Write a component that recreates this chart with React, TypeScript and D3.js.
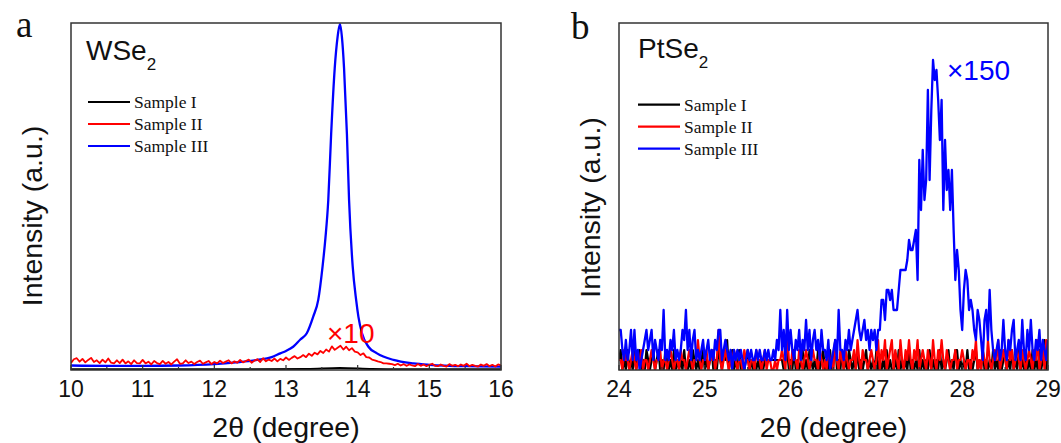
import React from 'react';
import * as d3 from 'd3';

// ---------- Panel a: WSe2 ----------
const wse2Ticks = [10, 11, 12, 13, 14, 15, 16];
const wse2MinorTicks = [10.5, 11.5, 12.5, 13.5, 14.5, 15.5];
const wse2BlueX = [10.0, 10.5, 11.0, 11.5, 12.0, 12.3, 12.6, 12.8, 12.92, 13.0, 13.1, 13.2, 13.29, 13.38, 13.45, 13.51, 13.55, 13.59, 13.63, 13.68, 13.72, 13.753, 13.78, 13.81, 13.85, 13.88, 13.93, 13.98, 14.01, 14.06, 14.15, 14.27, 14.5, 14.78, 15.0, 15.5, 16.0];
const wse2BlueY = [1.3, 1.2, 1.2, 1.3, 1.7, 2.2, 2.9, 3.7, 4.8, 5.5, 6.7, 8.8, 10.6, 15.4, 20.2, 29.8, 38, 49, 68, 87, 96, 99.7, 96, 87, 68, 49, 30, 20, 15.4, 10.6, 6.7, 4.8, 2.9, 1.9, 1.5, 1.1, 1.0];
const wse2RedStart = 10;
const wse2RedStep = 0.04;
const wse2RedY = [
  2.0, 3.1, 3.4, 2.4, 3.2, 2.2, 2.9, 3.5, 2.3, 2.8,
  2.0, 3.0, 2.2, 3.3, 2.1, 1.9, 2.8, 2.0, 3.0, 1.9,
  2.5, 1.7, 2.8, 2.0, 1.9, 2.9, 1.9, 2.4, 1.6, 2.6,
  2.0, 1.7, 2.6, 1.8, 2.3, 1.6, 2.4, 3.1, 1.8, 1.9,
  2.8, 2.0, 2.4, 1.7, 2.3, 2.7, 1.8, 2.2, 2.6, 1.7,
  2.3, 1.9, 2.7, 2.0, 2.4, 2.8, 1.9, 2.5, 2.1, 2.9,
  2.2, 2.6, 3.0, 2.1, 2.7, 3.1, 2.3, 3.4, 2.5, 3.0,
  2.6, 3.3, 2.5, 3.2, 2.8, 3.6, 2.9, 3.5, 4.0, 3.3,
  3.7, 4.3, 3.7, 4.7, 4.1, 5.0, 4.5, 5.5, 4.9, 5.9,
  5.3, 6.8, 5.8, 6.4, 7.0, 5.9, 6.7, 5.7, 6.3, 5.3,
  5.1, 4.3, 4.8, 3.7, 3.6, 3.0, 2.8, 2.5, 2.3, 1.9,
  1.9, 1.8, 1.7, 1.4, 1.8, 1.3, 1.7, 1.2, 1.6, 1.3,
  1.1, 1.7, 1.2, 1.6, 1.1, 1.5, 1.8, 1.2, 1.1, 1.6,
  1.2, 1.0, 1.7, 1.2, 1.5, 1.1, 1.6, 1.2, 1.8, 1.1,
  1.5, 1.2, 1.0, 1.6, 1.2, 1.7, 1.1, 1.5, 1.0, 1.6,
  1.3,
];
const wse2BlackX = [10, 12.5, 13.3, 13.75, 14.2, 14.6, 16];
const wse2BlackY = [0.2, 0.2, 0.3, 0.6, 0.3, 0.2, 0.2];

// ---------- Panel b: PtSe2 ----------
const ptse2Ticks = [24, 25, 26, 27, 28, 29];
const ptse2MinorTicks = [24.5, 25.5, 26.5, 27.5, 28.5];
const ptse2Start = 24;
const ptse2Step = 0.02;
const ptse2Blue = [
  4, 4, 2, 1, 3, 1, 2, 4, 1, 4,
  1, 2, 0, 1, 2, 3, 4, 2, 3, 4,
  1, 3, 2, 1, 3, 2, 6, 1, 2, 1,
  3, 2, 4, 1, 2, 1, 2, 4, 3, 6,
  2, 4, 1, 3, 4, 1, 2, 1, 2, 3,
  1, 2, 3, 1, 2, 1, 3, 2, 4, 4,
  1, 2, 3, 2, 1, 2, 0, 2, 1, 2,
  1, 2, 1, 0, 1, 2, 1, 2, 1, 1,
  2, 1, 2, 1, 1, 2, 1, 2, 1, 1,
  2, 1, 3, 2, 6, 2, 4, 1, 6, 2,
  4, 2, 1, 3, 2, 4, 1, 3, 2, 5,
  2, 4, 1, 3, 4, 2, 3, 1, 4, 2,
  2, 1, 3, 0, 1, 2, 3, 1, 6, 2,
  2, 1, 3, 2, 4, 2, 3, 4, 5, 6,
  4, 3, 4, 5, 3, 4, 2, 4, 3, 4,
  2, 4, 4, 7, 7, 5, 8, 8, 7, 8,
  6, 6, 6, 8, 10, 10, 10, 10, 11, 13,
  12, 12, 13, 14, 9, 21, 16, 22, 17, 19,
  28, 19, 26, 31, 29, 30, 27, 23, 27, 16,
  23, 18, 20, 16, 20, 14, 9, 12, 10, 6,
  4, 8, 10, 9, 6, 7, 6, 4, 3, 6,
  5, 3, 1, 5, 6, 3, 8, 4, 2, 1,
  2, 3, 1, 2, 5, 2, 1, 3, 2, 4,
  5, 1, 2, 3, 1, 5, 2, 1, 4, 2,
  5, 2, 1, 3, 2, 4, 1, 3, 2, 1,
  3,
];
const ptse2Black = [
  1, 2, 0, 1, 0, 2, 0, 1, 0, 2,
  0, 1, 2, 0, 1, 0, 2, 1, 0, 1,
  2, 0, 1, 2, 0, 1, 0, 2, 1, 0,
  1, 0, 2, 0, 1, 0, 1, 0, 2, 0,
  0, 1, 0, 2, 1, 0, 1, 0, 1, 2,
  0, 1, 0, 1, 2, 0, 1, 0, 2, 1,
  0, 2, 1, 3, 0, 1, 2, 0, 1, 0,
  2, 0, 1, 0, 1, 2, 0, 1, 0, 1,
  0, 1, 0, 1, 0, 1, 1, 1, 1, 1,
  1, 1, 1, 1, 1, 1, 0, 1, 2, 0,
  1, 0, 2, 0, 1, 0, 1, 2, 0, 1,
  0, 2, 1, 0, 1, 0, 2, 0, 1, 2,
  0, 1, 0, 2, 0, 1, 3, 0, 1, 0,
  2, 0, 1, 0, 2, 1, 0, 1, 0, 2,
  0, 1, 0, 1, 2, 0, 1, 0, 1, 0,
  2, 0, 1, 0, 1, 0, 2, 0, 1, 0,
  0, 1, 0, 2, 0, 1, 0, 1, 0, 2,
  0, 1, 0, 1, 0, 2, 0, 1, 0, 1,
  0, 2, 0, 1, 0, 1, 0, 2, 0, 1,
  0, 1, 2, 0, 1, 0, 2, 2, 0, 1,
  0, 1, 0, 2, 0, 1, 0, 1, 2, 0,
  1, 0, 2, 0, 1, 0, 1, 0, 2, 0,
  1, 0, 2, 0, 1, 2, 0, 1, 0, 2,
  0, 1, 0, 2, 0, 1, 0, 2, 0, 1,
  0, 2, 0, 1, 0, 2, 0, 1, 3, 0,
  2,
];
const ptse2Red = [
  1, 1, 0, 2, 1, 1, 0, 1, 2, 1,
  0, 1, 1, 2, 0, 1, 1, 0, 1, 2,
  1, 0, 1, 1, 2, 0, 1, 1, 0, 1,
  2, 1, 0, 1, 1, 0, 2, 1, 1, 0,
  1, 2, 1, 0, 1, 1, 3, 1, 0, 1,
  1, 2, 0, 1, 1, 2, 0, 1, 4, 1,
  0, 1, 2, 1, 0, 1, 1, 2, 1, 0,
  1, 1, 0, 2, 1, 1, 0, 1, 1, 0,
  2, 1, 1, 0, 1, 2, 0, 1, 1, 0,
  0, 1, 0, 1, 1, 2, 1, 0, 4, 1,
  0, 2, 1, 1, 0, 2, 1, 0, 1, 2,
  1, 0, 1, 2, 1, 1, 0, 2, 1, 0,
  1, 0, 2, 1, 1, 0, 3, 1, 0, 2,
  1, 0, 2, 1, 0, 1, 1, 2, 0, 3,
  1, 0, 2, 1, 1, 0, 1, 2, 1, 0,
  1, 3, 0, 2, 1, 3, 0, 1, 2, 3,
  0, 2, 1, 0, 3, 1, 0, 2, 1, 3,
  1, 0, 2, 1, 3, 0, 1, 2, 1, 0,
  2, 1, 0, 3, 1, 0, 2, 1, 3, 1,
  0, 2, 1, 0, 1, 1, 2, 0, 1, 1,
  2, 1, 0, 1, 1, 0, 2, 1, 3, 0,
  1, 0, 2, 1, 0, 3, 1, 0, 1, 2,
  1, 3, 0, 1, 2, 1, 0, 3, 1, 2,
  0, 1, 2, 1, 0, 2, 1, 0, 1, 2,
  1, 0, 2, 1, 3, 0, 1, 2, 0, 3,
  1,
];

const legendLabels = ['Sample I', 'Sample II', 'Sample III'];
const seriesColors = ['#000000', '#ff0000', '#0000ff'];

const SANS = "'Liberation Sans', Arial, Helvetica, sans-serif";
const SERIF = "'Liberation Serif', 'Times New Roman', serif";

type Pt = [number, number];

function zipXY(xs: number[], ys: number[]): Pt[] {
  return xs.map((x, i) => [x, ys[i]] as Pt);
}
function gridXY(start: number, step: number, ys: number[]): Pt[] {
  return ys.map((y, i) => [start + i * step, y] as Pt);
}

interface PanelProps {
  left: number; right: number; top: number; bottom: number;
  xDomain: [number, number]; yDomain: [number, number];
  ticks: number[]; minorTicks: number[];
  series: { pts: Pt[]; color: string; width: number; curve: d3.CurveFactory }[];
  letter: string; letterX: number; letterY: number;
  title: string; titleX: number; titleY: number;
  legendX: number; legendY: number;
  yLabelX: number; yLabelY: number;
  note: string; noteColor: string; noteX: number; noteY: number;
}

function Panel(p: PanelProps) {
  const x = d3.scaleLinear().domain(p.xDomain).range([p.left, p.right]);
  const y = d3.scaleLinear().domain(p.yDomain).range([p.bottom, p.top]);
  const clipId = 'clip-' + p.letter;
  const cx = (p.left + p.right) / 2;
  return (
    <g>
      <defs>
        <clipPath id={clipId}>
          <rect x={p.left} y={p.top} width={p.right - p.left} height={p.bottom - p.top} />
        </clipPath>
      </defs>
      <g clipPath={`url(#${clipId})`}>
        {p.series.map((s, i) => {
          const line = d3.line<Pt>().x(d => x(d[0])).y(d => y(d[1])).curve(s.curve);
          return (
            <path key={i} d={line(s.pts) || ''} fill="none" stroke={s.color}
              strokeWidth={s.width} strokeLinejoin="round" />
          );
        })}
      </g>
      {p.ticks.map(t => (
        <line key={'t' + t} x1={x(t)} x2={x(t)} y1={p.bottom} y2={p.bottom - 5} stroke="#333" strokeWidth={1.2} />
      ))}
      {p.minorTicks.map(t => (
        <line key={'m' + t} x1={x(t)} x2={x(t)} y1={p.bottom} y2={p.bottom - 3} stroke="#333" strokeWidth={1.2} />
      ))}
      <rect x={p.left} y={p.top} width={p.right - p.left} height={p.bottom - p.top}
        fill="none" stroke="#333" strokeWidth={1.5} />
      {p.ticks.map(t => (
        <text key={'l' + t} x={x(t)} y={397} textAnchor="middle" fontFamily={SANS} fontSize={23} fill="#111">{t}</text>
      ))}
      <text x={cx} y={437} textAnchor="middle" fontFamily={SANS} fontSize={28.5} fill="#111">2θ (degree)</text>
      <text transform={`translate(${p.yLabelX},${p.yLabelY}) rotate(-90)`} textAnchor="middle"
        fontFamily={SANS} fontSize={28.5} fill="#111">Intensity (a.u.)</text>
      <text x={p.letterX} y={p.letterY} fontFamily={SERIF} fontSize={37} fill="#111">{p.letter}</text>
      <text x={p.titleX} y={p.titleY} fontFamily={SANS} fontSize={28} fill="#111">
        {p.title}
        <tspan fontSize={17} dy={10}>2</tspan>
      </text>
      {legendLabels.map((lab, i) => (
        <g key={lab}>
          <line x1={p.legendX} x2={p.legendX + 42} y1={p.legendY + i * 22} y2={p.legendY + i * 22}
            stroke={seriesColors[i]} strokeWidth={2.2} />
          <text x={p.legendX + 46} y={p.legendY + i * 22 + 6} fontFamily={SERIF} fontSize={17.5} fill="#111">{lab}</text>
        </g>
      ))}
      <text x={p.noteX} y={p.noteY} fontFamily={SANS} fontSize={28} fill={p.noteColor}>{p.note}</text>
    </g>
  );
}

export default function App() {
  const aSeries = [
    { pts: zipXY(wse2BlackX, wse2BlackY), color: seriesColors[0], width: 2, curve: d3.curveMonotoneX },
    { pts: zipXY(wse2BlueX, wse2BlueY), color: seriesColors[2], width: 2.3, curve: d3.curveMonotoneX },
    { pts: gridXY(wse2RedStart, wse2RedStep, wse2RedY), color: seriesColors[1], width: 1.8, curve: d3.curveLinear },
  ];
  const bSeries = [
    { pts: gridXY(ptse2Start, ptse2Step, ptse2Black), color: seriesColors[0], width: 2.2, curve: d3.curveLinear },
    { pts: gridXY(ptse2Start, ptse2Step, ptse2Red), color: seriesColors[1], width: 2.2, curve: d3.curveLinear },
    { pts: gridXY(ptse2Start, ptse2Step, ptse2Blue), color: seriesColors[2], width: 2.3, curve: d3.curveLinear },
  ];
  return (
    <svg width={1061} height={443} viewBox="0 0 1061 443"
      style={{ position: 'absolute', left: 0, top: 0, background: '#fff' }}>
      <rect x={0} y={0} width={1061} height={443} fill="#fff" />
      <Panel left={71} right={501} top={23} bottom={370}
        xDomain={[10, 16]} yDomain={[0, 100]}
        ticks={wse2Ticks} minorTicks={wse2MinorTicks} series={aSeries}
        letter="a" letterX={16} letterY={37}
        title="WSe" titleX={86} titleY={60}
        legendX={88} legendY={102}
        yLabelX={42} yLabelY={216}
        note="×10" noteColor="#ff0000" noteX={327} noteY={343} />
      <Panel left={619} right={1048} top={23} bottom={370}
        xDomain={[24, 29]} yDomain={[0, 34.7]}
        ticks={ptse2Ticks} minorTicks={ptse2MinorTicks} series={bSeries}
        letter="b" letterX={571} letterY={38.5}
        title="PtSe" titleX={638} titleY={58}
        legendX={638} legendY={104.7}
        yLabelX={600} yLabelY={207.5}
        note="×150" noteColor="#0000ff" noteX={947} noteY={80} />
    </svg>
  );
}
